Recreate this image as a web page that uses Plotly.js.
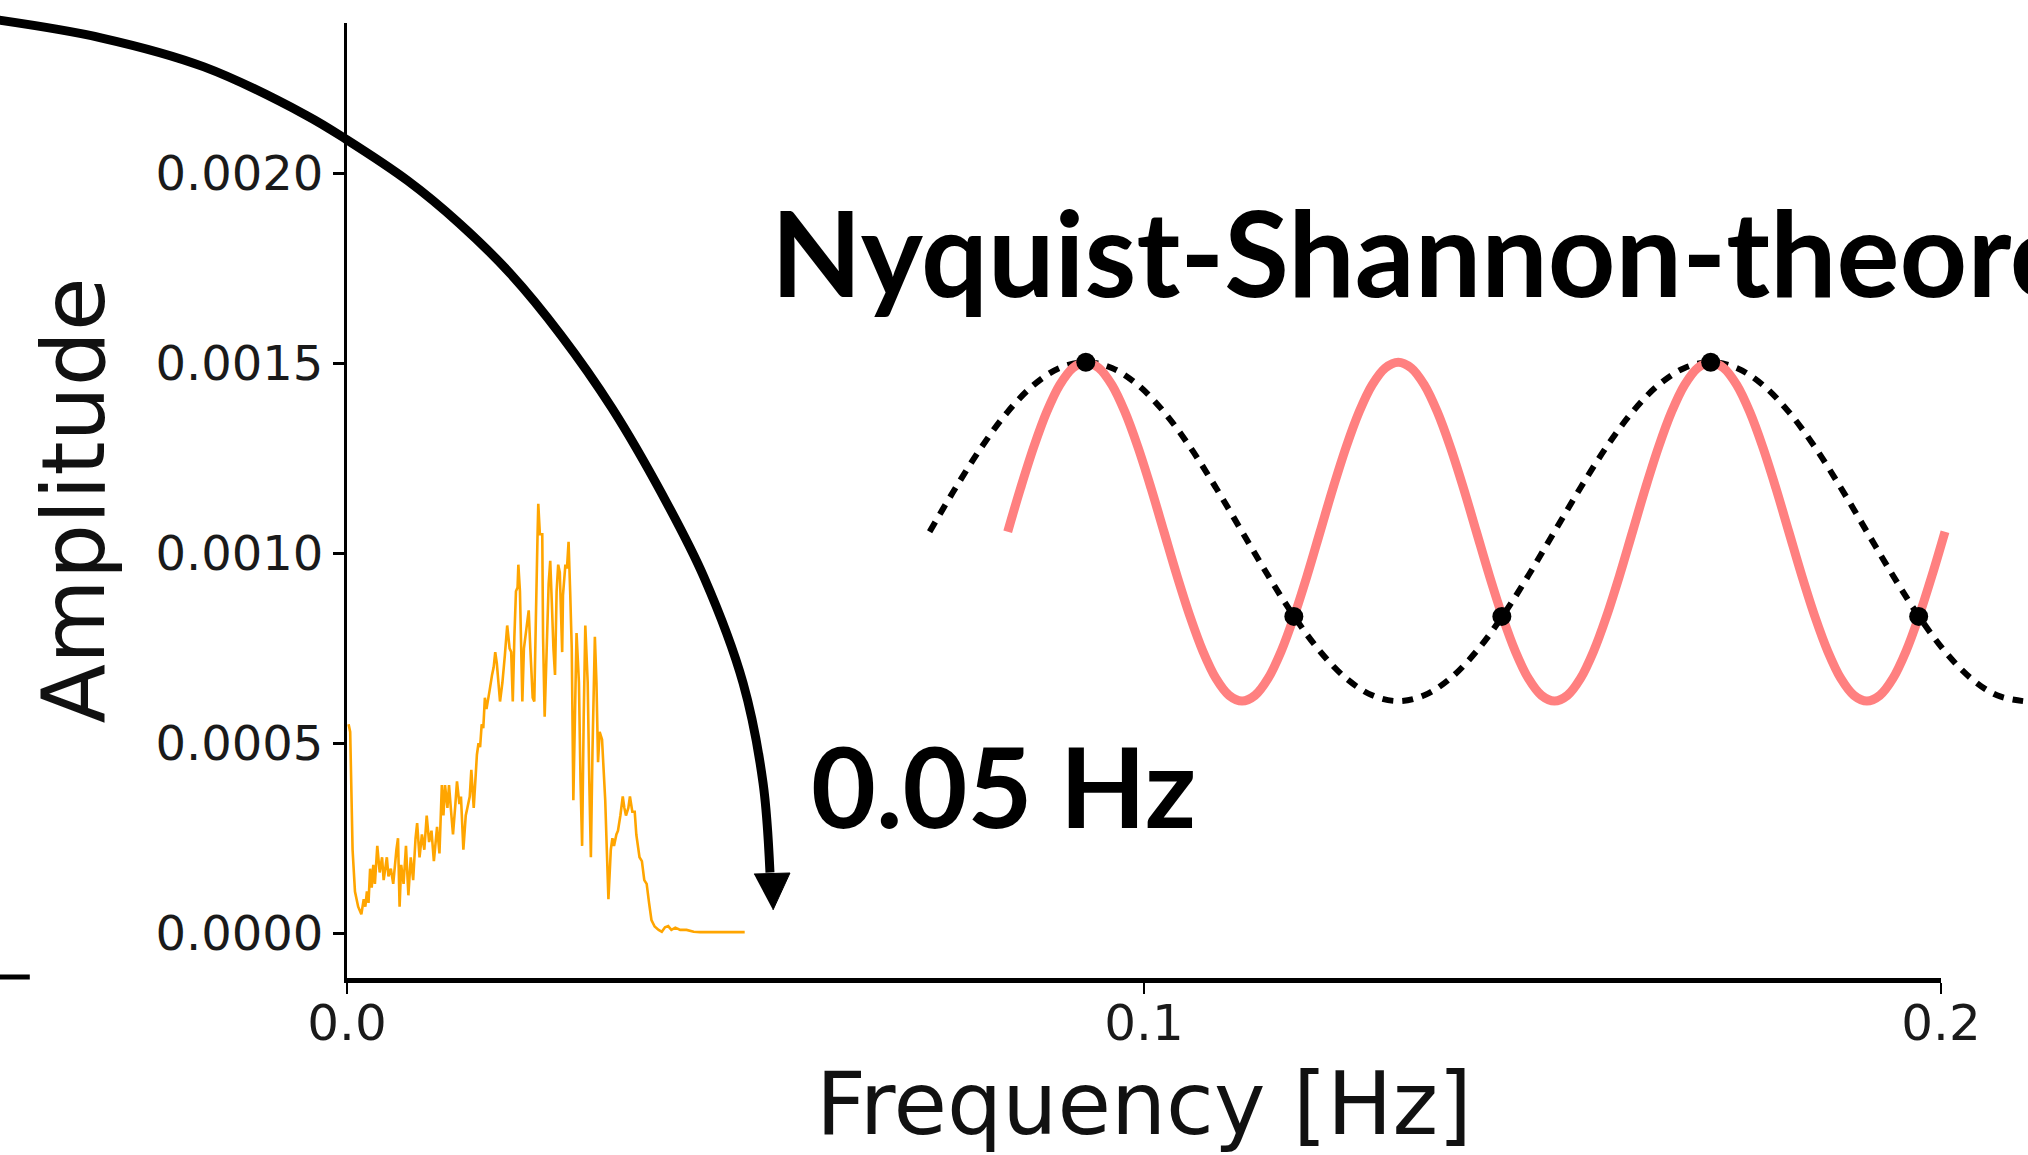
<!DOCTYPE html>
<html><head><meta charset="utf-8">
<script src="https://cdn.plot.ly/plotly-3.0.1.min.js"></script>
<style>html,body{margin:0;padding:0;background:#fff;overflow:hidden}</style>
</head><body><div id="chart" style="width:2028px;height:1155px"></div>
<script>
// ---- spectrum (orange) ----
const freq = [0.0002,0.0004,0.0007,0.0010,0.0014,0.0018,0.0021,0.0023,0.0025,0.0027,0.0029,0.0031,0.0033,0.0035,0.0038,0.0041,0.0044,0.0046,0.0050,0.0052,0.0055,0.0058,0.0062,0.0064,0.0066,0.0068,0.0071,0.0074,0.0077,0.0080,0.0083,0.0086,0.0088,0.0091,0.0094,0.0097,0.0100,0.0103,0.0106,0.0109,0.0113,0.0116,0.0119,0.0121,0.0123,0.0126,0.0128,0.0131,0.0133,0.0136,0.0138,0.0141,0.0143,0.0146,0.0149,0.0151,0.0154,0.0156,0.0159,0.0161,0.0163,0.0165,0.0167,0.0169,0.0171,0.0173,0.0175,0.0179,0.0182,0.0184,0.0186,0.0188,0.0190,0.0192,0.0195,0.0198,0.0201,0.0204,0.0206,0.0208,0.0210,0.0212,0.0214,0.0215,0.0217,0.0220,0.0222,0.0225,0.0228,0.0230,0.0233,0.0235,0.0237,0.0239,0.0240,0.0242,0.0245,0.0246,0.0248,0.0251,0.0253,0.0255,0.0257,0.0259,0.0261,0.0263,0.0265,0.0267,0.0270,0.0271,0.0274,0.0276,0.0278,0.0280,0.0282,0.0284,0.0286,0.0288,0.0291,0.0293,0.0295,0.0297,0.0299,0.0302,0.0304,0.0306,0.0308,0.0311,0.0313,0.0315,0.0317,0.0320,0.0322,0.0324,0.0326,0.0328,0.0331,0.0333,0.0335,0.0338,0.0340,0.0343,0.0346,0.0348,0.0350,0.0353,0.0355,0.0358,0.0361,0.0363,0.0367,0.0370,0.0373,0.0376,0.0379,0.0382,0.0386,0.0391,0.0395,0.0399,0.0403,0.0407,0.0412,0.0418,0.0426,0.0435,0.0443,0.0464,0.0499];
const amplitude = [0.00055,0.00053,0.00022,0.00011,0.00007,0.00005,0.00009,0.00007,0.00011,0.00008,0.00017,0.00012,0.00018,0.00013,0.00023,0.00016,0.00020,0.00014,0.00020,0.00015,0.00017,0.00013,0.00022,0.00025,0.00007,0.00018,0.00013,0.00023,0.00010,0.00020,0.00014,0.00025,0.00029,0.00020,0.00026,0.00022,0.00031,0.00024,0.00027,0.00019,0.00028,0.00021,0.00039,0.00031,0.00039,0.00033,0.00039,0.00031,0.00026,0.00034,0.00040,0.00034,0.00036,0.00022,0.00031,0.00033,0.00036,0.00043,0.00033,0.00040,0.00047,0.00050,0.00049,0.00055,0.00054,0.00062,0.00059,0.00064,0.00068,0.00070,0.00074,0.00071,0.00066,0.00061,0.00066,0.00073,0.00081,0.00075,0.00074,0.00061,0.00078,0.00090,0.00091,0.00097,0.00090,0.00061,0.00075,0.00080,0.00085,0.00075,0.00062,0.00061,0.00083,0.00104,0.00113,0.00105,0.00105,0.00078,0.00057,0.00078,0.00092,0.00098,0.00087,0.00075,0.00068,0.00090,0.00097,0.00095,0.00074,0.00089,0.00097,0.00096,0.00103,0.00090,0.00075,0.00035,0.00057,0.00079,0.00066,0.00040,0.00023,0.00057,0.00081,0.00066,0.00040,0.00020,0.00048,0.00078,0.00066,0.00045,0.00053,0.00051,0.00043,0.00035,0.00022,0.00009,0.00022,0.00025,0.00023,0.00026,0.00027,0.00031,0.00036,0.00033,0.00031,0.00033,0.00036,0.00032,0.00032,0.00026,0.00020,0.00019,0.00014,0.00013,0.00008,0.000035,0.000018,0.000009,0.000004,0.000016,0.000019,0.000009,0.000015,0.000009,0.000009,0.000004,0.000003,0.000003,0.000003];

// ---- axis ticks ----
const xTickVals = [0.0, 0.1, 0.2];
const xTickText = ['0.0', '0.1', '0.2'];
const yTickVals = [0.0000, 0.0005, 0.0010, 0.0015, 0.0020];
const yTickText = ['0.0000', '0.0005', '0.0010', '0.0015', '0.0020'];

// ---- Nyquist illustration (read in the same frequency / amplitude units) ----
// fast (red) wave
const fastWaveX = [0.08290,0.08453,0.08617,0.08780,0.08943,0.09107,0.09270,0.09433,0.09597,0.09760,0.09923,0.10087,
  0.10250,0.10413,0.10577,0.10740,0.10903,0.11067,0.11230,0.11393,0.11557,0.11720,0.11883,0.12047,
  0.12210,0.12373,0.12537,0.12700,0.12863,0.13027,0.13190,0.13353,0.13517,0.13680,0.13843,0.14007,
  0.14170,0.14333,0.14497,0.14660,0.14823,0.14987,0.15150,0.15313,0.15477,0.15640,0.15803,0.15967,
  0.16130,0.16293,0.16457,0.16620,0.16783,0.16947,0.17110,0.17273,0.17437,0.17600,0.17763,0.17927,
  0.18090,0.18253,0.18417,0.18580,0.18743,0.18907,0.19070,0.19233,0.19397,0.19560,0.19723,0.19887,0.20050];
const fastWaveY = [0.001057,0.0011725,0.00128,0.0013723,0.0014432,0.0014878,0.001503,0.0014878,0.0014432,0.0013723,0.00128,0.0011725,
  0.001057,0.0009415,0.000834,0.0007417,0.0006708,0.0006262,0.000611,0.0006262,0.0006708,0.0007417,0.000834,0.0009415,
  0.001057,0.0011725,0.00128,0.0013723,0.0014432,0.0014878,0.001503,0.0014878,0.0014432,0.0013723,0.00128,0.0011725,
  0.001057,0.0009415,0.000834,0.0007417,0.0006708,0.0006262,0.000611,0.0006262,0.0006708,0.0007417,0.000834,0.0009415,
  0.001057,0.0011725,0.00128,0.0013723,0.0014432,0.0014878,0.001503,0.0014878,0.0014432,0.0013723,0.00128,0.0011725,
  0.001057,0.0009415,0.000834,0.0007417,0.0006708,0.0006262,0.000611,0.0006262,0.0006708,0.0007417,0.000834,0.0009415,0.001057];
// slow (dotted, aliased) wave
const slowWaveX = [0.07310,0.07637,0.07963,0.08290,0.08617,0.08943,0.09270,0.09597,0.09923,0.10250,0.10577,0.10903,
  0.11230,0.11557,0.11883,0.12210,0.12537,0.12863,0.13190,0.13517,0.13843,0.14170,0.14497,0.14823,
  0.15150,0.15477,0.15803,0.16130,0.16457,0.16783,0.17110,0.17437,0.17763,0.18090,0.18417,0.18743,
  0.19070,0.19397,0.19723,0.20050,0.20377,0.20703,0.21030];
const slowWaveY = [0.001057,0.0011725,0.00128,0.0013723,0.0014432,0.0014878,0.001503,0.0014878,0.0014432,0.0013723,0.00128,0.0011725,
  0.001057,0.0009415,0.000834,0.0007417,0.0006708,0.0006262,0.000611,0.0006262,0.0006708,0.0007417,0.000834,0.0009415,
  0.001057,0.0011725,0.00128,0.0013723,0.0014432,0.0014878,0.001503,0.0014878,0.0014432,0.0013723,0.00128,0.0011725,
  0.001057,0.0009415,0.000834,0.0007417,0.0006708,0.0006262,0.000611];
const sampleX = [0.0927,0.1188,0.1449,0.1711,0.1972];
const sampleY = [0.001503,0.000834,0.000834,0.001503,0.000834];

// ---- curved arrow pointing at 0.05 Hz ----
const arcX = [-0.0440,-0.03074,-0.01794,-0.00514,0.0,0.00765,0.01405,0.02045,0.02685,0.03325,0.03965,0.04479,0.04969,0.05220,0.05307];
const arcY = [0.002404,0.002356,0.002280,0.002153,0.002088,0.001980,0.001869,0.001737,0.001574,0.001382,0.001151,0.000937,0.000659,0.000396,0.000160];
const arrowHeadX = [0.05106,0.05558,0.05345];
const arrowHeadY = [0.0001560,0.0001587,0.0000614];
const edgeX = [-0.0440,-0.0398];
const edgeY = [-0.000115,-0.000115];

// ---- texts ----
const titleText = 'Nyquist-Shannon-theorem';
const freqLabel = '0.05 Hz';
const xTitle = 'Frequency [Hz]';
const yTitle = 'Amplitude';

const W = 2028, H = 1155;
const tickFont = {family: 'DejaVu Sans', size: 48, color: '#1a1a1a'};
const xTickFont = {family: 'DejaVu Sans', size: 50, color: '#1a1a1a'};
const titleFont = {family: 'DejaVu Sans', size: 87, color: '#111'};
const bigBold = {family: 'Lato', size: 118, color: '#000', weight: 700};
const labelBold = {family: 'Lato', size: 112, color: '#000', weight: 700};

const traces = [
  {x: freq, y: amplitude, xaxis: 'x', yaxis: 'y', type: 'scatter', mode: 'lines',
   line: {color: '#FFA500', width: 2.6, simplify: false}},
  {x: slowWaveX, y: slowWaveY, xaxis: 'x2', yaxis: 'y2', type: 'scatter', mode: 'lines',
   line: {color: '#000', width: 6, dash: '11px,9px', shape: 'spline', smoothing: 1, simplify: false}},
  {x: fastWaveX, y: fastWaveY, xaxis: 'x2', yaxis: 'y2', type: 'scatter', mode: 'lines',
   line: {color: '#ff8080', width: 9, shape: 'spline', smoothing: 1, simplify: false}},
  {x: sampleX, y: sampleY, xaxis: 'x2', yaxis: 'y2', type: 'scatter', mode: 'markers',
   marker: {color: '#000', size: 19}},
  {x: arcX, y: arcY, xaxis: 'x2', yaxis: 'y2', type: 'scatter', mode: 'lines',
   line: {color: '#000', width: 9, shape: 'spline', smoothing: 1, simplify: false}},
  {x: arrowHeadX, y: arrowHeadY, xaxis: 'x2', yaxis: 'y2', type: 'scatter', mode: 'lines',
   fill: 'toself', fillcolor: '#000', line: {color: '#000', width: 1}},
  {x: edgeX, y: edgeY, xaxis: 'x2', yaxis: 'y2', type: 'scatter', mode: 'lines',
   line: {color: '#000', width: 5}}
];

const layout = {
  width: W, height: H, autosize: false,
  margin: {l: 0, r: 0, t: 0, b: 0, pad: 0},
  paper_bgcolor: '#fff', plot_bgcolor: 'rgba(0,0,0,0)',
  showlegend: false,
  xaxis: {domain: [347/W, 1941/W], range: [0, 0.2], anchor: 'y',
    showgrid: false, zeroline: false, showline: true, linecolor: '#000', linewidth: 4.5,
    ticks: 'outside', ticklen: 11, tickwidth: 2.5, tickcolor: '#000',
    tickvals: xTickVals, ticktext: xTickText, tickfont: xTickFont, ticklabelstandoff: -14,
    title: {text: xTitle, font: titleFont, standoff: 34}},
  yaxis: {domain: [177/H, 1132/H], range: [-0.00011763, 0.0023955], anchor: 'x',
    showgrid: false, zeroline: false, showline: true, linecolor: '#000', linewidth: 3,
    ticks: 'outside', ticklen: 11, tickwidth: 2.5, tickcolor: '#000',
    tickvals: yTickVals, ticktext: yTickText, tickfont: tickFont,
    title: {text: yTitle, font: titleFont, standoff: 22}},
  xaxis2: {domain: [0, 1], range: [-347/7970, (W-347)/7970], anchor: 'y2', visible: false, fixedrange: true},
  yaxis2: {domain: [0, 1], range: [(933.3-H)/380000, 933.3/380000], anchor: 'x2', visible: false, fixedrange: true},
  annotations: [
    {text: titleText, xref: 'paper', yref: 'paper', x: 769/W, y: 1-251/H,
     xanchor: 'left', yanchor: 'middle', showarrow: false, font: bigBold},
    {text: freqLabel, xref: 'paper', yref: 'paper', x: 809/W, y: 1-784/H,
     xanchor: 'left', yanchor: 'middle', showarrow: false, font: labelBold}
  ]
};

Plotly.newPlot('chart', traces, layout, {staticPlot: true, displayModeBar: false});
</script></body></html>
